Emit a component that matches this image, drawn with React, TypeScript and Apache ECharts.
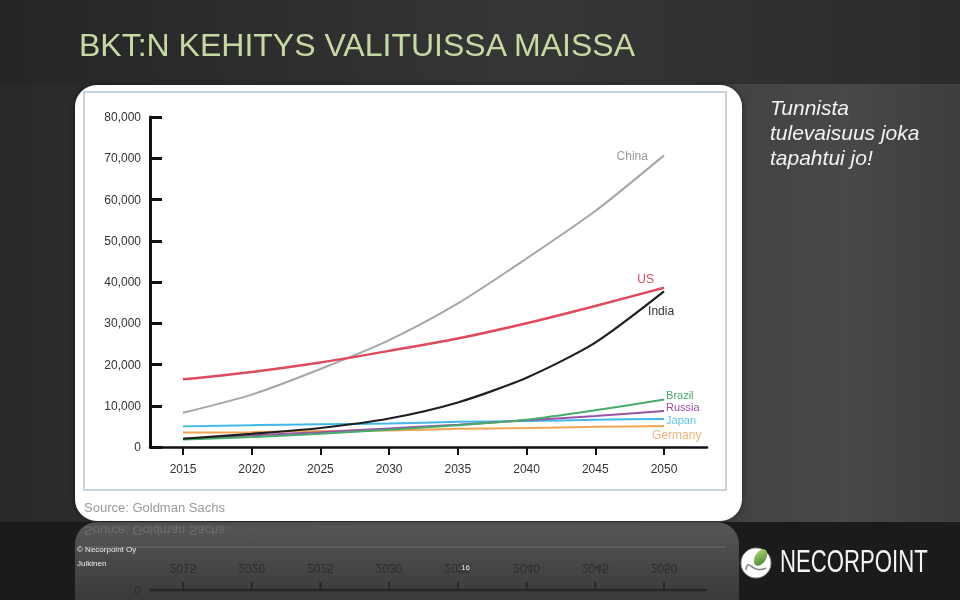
import React, { useEffect, useRef } from "react";
import * as echarts from "echarts";

// ---- data ----
const years = [2015, 2020, 2025, 2030, 2035, 2040, 2045, 2050];
const chinaGdp = [8300, 12700, 18900, 25900, 34800, 45700, 57200, 70700];
const usGdp = [16400, 18200, 20500, 23300, 26300, 30000, 34200, 38600];
const indiaGdp = [2000, 3200, 4600, 6900, 10800, 16800, 25300, 37700];
const brazilGdp = [1800, 2400, 3200, 4200, 5300, 6600, 8900, 11500];
const russiaGdp = [2000, 2800, 3600, 4500, 5400, 6500, 7500, 8700];
const japanGdp = [5000, 5300, 5500, 5700, 6100, 6300, 6600, 6800];
const germanyGdp = [3500, 3600, 3900, 4000, 4400, 4600, 4900, 5100];
const seriesNames = ["Germany", "Japan", "Russia", "Brazil", "China", "US", "India"];
const yMax = 80000;
const yStep = 10000;

const titleText = "BKT:N KEHITYS VALITUISSA MAISSA";
const sideText = "Tunnista\ntulevaisuus joka\ntapahtui jo!";
const sourceText = "Source: Goldman Sachs";

const valuesByName: Record<string, number[]> = {
  China: chinaGdp,
  US: usGdp,
  India: indiaGdp,
  Brazil: brazilGdp,
  Russia: russiaGdp,
  Japan: japanGdp,
  Germany: germanyGdp,
};

// ---- styles ----
const FONT = "'Liberation Sans', Arial, Helvetica, sans-serif";
const styleByName: Record<string, any> = {
  China: { color: "#a6a6a6", text: "#9c9c9c", width: 2, pos: "left", off: [-16, 1], fs: 12 },
  US: { color: "#df4a5d", text: "#df4a5d", width: 2.5, pos: "left", off: [-10, -9], fs: 12 },
  India: { color: "#1f1f1f", text: "#333333", width: 2.2, pos: "right", off: [-16, 20], fs: 12 },
  Brazil: { color: "#46ac6a", text: "#46ac6a", width: 2, pos: "right", off: [2, -5], fs: 11 },
  Russia: { color: "#9a52a8", text: "#9a52a8", width: 2, pos: "right", off: [2, -4], fs: 11 },
  Japan: { color: "#42b8e6", text: "#5fc4ee", width: 2, pos: "right", off: [2, 1], fs: 11 },
  Germany: { color: "#f0a552", text: "#efb47b", width: 2, pos: "right", off: [-12, 9], fs: 12 },
};

function buildSeries() {
  return seriesNames.map((name) => {
    const st = styleByName[name];
    const vals = valuesByName[name];
    const data = years.map((yr, i) =>
      i === years.length - 1
        ? {
            value: [yr, vals[i]],
            label: {
              show: true,
              position: st.pos,
              distance: 0,
              offset: st.off,
              formatter: name,
              color: st.text,
              fontSize: st.fs,
              lineHeight: 11,
              fontFamily: FONT,
            },
          }
        : [yr, vals[i]]
    );
    return {
      name,
      type: "line",
      xAxisIndex: 1,
      yAxisIndex: 1,
      smooth: 0.25,
      symbol: "circle",
      symbolSize: 0.1,
      showSymbol: true,
      lineStyle: { color: st.color, width: st.width },
      itemStyle: { color: st.color },
      label: { show: false },
      emphasis: { disabled: true },
      data,
    };
  });
}

function baseGraphic() {
  return [
    // page background
    {
      type: "rect",
      z: -20,
      shape: { x: 0, y: 0, width: 960, height: 600 },
      style: {
        fill: new echarts.graphic.LinearGradient(0, 0, 1, 0, [
          { offset: 0, color: "#292929" },
          { offset: 0.5, color: "#363636" },
          { offset: 0.88, color: "#484848" },
          { offset: 1, color: "#3e3e3e" },
        ]),
      },
    },
    {
      type: "rect",
      z: -19,
      shape: { x: 0, y: 0, width: 960, height: 84 },
      style: {
        fill: new echarts.graphic.LinearGradient(0, 0, 1, 0, [
          { offset: 0, color: "#252525" },
          { offset: 0.55, color: "#363636" },
          { offset: 1, color: "#2b2b2b" },
        ]),
      },
    },
    {
      type: "rect",
      z: -19,
      shape: { x: 0, y: 522, width: 960, height: 78 },
      style: { fill: "#1b1b1b" },
    },
    // white card
    {
      type: "rect",
      z: -17,
      shape: { x: 75, y: 85, width: 667, height: 436, r: 22 },
      style: { fill: "#ffffff", shadowBlur: 6, shadowColor: "rgba(0,0,0,0.45)" },
    },
    {
      type: "rect",
      z: -16,
      shape: { x: 84, y: 92, width: 642, height: 398 },
      style: { fill: "none", stroke: "#b6c6d3", lineWidth: 1.5 },
    },
    // texts
    {
      type: "text",
      z: 10,
      x: 79,
      y: 45,
      style: {
        text: titleText,
        fontSize: 32,
        fontFamily: FONT,
        fill: "#c6d9a2",
        verticalAlign: "middle",
      },
    },
    {
      type: "text",
      z: 10,
      x: 770,
      y: 95,
      style: {
        text: sideText,
        fontSize: 21,
        fontStyle: "italic",
        fontFamily: FONT,
        lineHeight: 25,
        fill: "#f2f2f2",
        verticalAlign: "top",
      },
    },
    {
      type: "text",
      z: 10,
      x: 84,
      y: 507,
      style: {
        text: sourceText,
        fontSize: 13,
        fontFamily: FONT,
        fill: "#9a9a9a",
        verticalAlign: "middle",
      },
    },
    {
      type: "text",
      z: 10,
      x: 77,
      y: 549,
      style: { text: "© Necorpoint Oy", fontSize: 8, fontFamily: FONT, fill: "#eeeeee", verticalAlign: "middle" },
    },
    {
      type: "text",
      z: 10,
      x: 77,
      y: 563,
      style: { text: "Julkinen", fontSize: 8, fontFamily: FONT, fill: "#eeeeee", verticalAlign: "middle" },
    },
    {
      type: "text",
      z: 10,
      x: 461,
      y: 567,
      style: { text: "16", fontSize: 8, fontFamily: FONT, fill: "#eeeeee", verticalAlign: "middle" },
    },
    // logo
    {
      type: "circle",
      z: 10,
      shape: { cx: 756, cy: 563, r: 15 },
      style: { fill: "#ffffff", stroke: "#9a9a9a", lineWidth: 1 },
    },
    {
      type: "ellipse",
      z: 11,
      x: 760.5,
      y: 557.5,
      rotation: -0.55,
      shape: { cx: 0, cy: 0, rx: 5.5, ry: 9 },
      style: {
        fill: new echarts.graphic.LinearGradient(0, 0, 1, 1, [
          { offset: 0, color: "#b6dc78" },
          { offset: 1, color: "#3f7f2d" },
        ]),
      },
    },
    {
      type: "bezierCurve",
      z: 12,
      shape: { x1: 746, y1: 570, cpx1: 748, cpy1: 556, cpx2: 752, cpy2: 575, x2: 766, y2: 568 },
      style: { stroke: "#8a8a8a", lineWidth: 1.6, fill: "none" },
    },
    {
      type: "text",
      z: 10,
      x: 780,
      y: 562,
      scaleX: 0.715,
      style: {
        text: "NECORPOINT",
        fontSize: 31,
        fontFamily: "'Liberation Sans Narrow', 'Liberation Sans', Arial, sans-serif",
        fill: "#f4f4f4",
        verticalAlign: "middle",
      },
    },
  ];
}

function mirrorGroup(xs: number[], axisY: number, axisLeft: number, axisRight: number) {
  const children: any[] = [
    {
      type: "rect",
      z: -18,
      shape: { x: 75, y: 300, width: 664, height: 215, r: 22 },
      style: {
        fill: new echarts.graphic.LinearGradient(0, 0, 0, 1, [
          { offset: 0, color: "#262626" },
          { offset: 0.64, color: "#3a3a3a" },
          { offset: 1, color: "#575757" },
        ]),
      },
    },
    {
      type: "line",
      z: -17,
      shape: { x1: 84, y1: 490, x2: 726, y2: 490 },
      style: { stroke: "#6c6c6c", lineWidth: 1.2 },
    },
    {
      type: "text",
      z: -17,
      x: 84,
      y: 507,
      style: { text: sourceText, fontSize: 13, fontFamily: FONT, fill: "#6e6e6e", verticalAlign: "middle" },
    },
    {
      type: "line",
      z: -17,
      shape: { x1: axisLeft, y1: axisY, x2: axisRight, y2: axisY },
      style: { stroke: "#262626", lineWidth: 2.5 },
    },
    {
      type: "text",
      z: -17,
      x: axisLeft - 9,
      y: axisY,
      style: { text: "0", fontSize: 12, fontFamily: FONT, fill: "#2e2e2e", align: "right", verticalAlign: "middle" },
    },
  ];
  xs.forEach((x, i) => {
    children.push({
      type: "line",
      z: -17,
      shape: { x1: x, y1: axisY, x2: x, y2: axisY + 8 },
      style: { stroke: "#262626", lineWidth: 2 },
    });
    children.push({
      type: "text",
      z: -17,
      x,
      y: axisY + 22,
      style: {
        text: String(years[i]),
        fontSize: 12,
        fontFamily: FONT,
        fill: "#2e2e2e",
        align: "center",
        verticalAlign: "middle",
      },
    });
  });
  return { type: "group", y: 1037, scaleY: -1, children };
}

function buildOption(extraGraphic: any[]) {
  return {
    animation: false,
    backgroundColor: "transparent",
    grid: [
      { left: 150, top: 117, width: 557, height: 330 },
      { left: 183, top: 117, width: 481, height: 330 },
    ],
    xAxis: [
      {
        gridIndex: 0,
        type: "value",
        min: 0,
        max: 1,
        axisLine: { show: true, lineStyle: { color: "#111111", width: 2.5 } },
        axisTick: { show: false },
        axisLabel: { show: false },
        splitLine: { show: false },
      },
      {
        gridIndex: 1,
        type: "value",
        min: years[0],
        max: years[years.length - 1],
        interval: 5,
        axisLine: { show: false },
        axisTick: { show: true, length: 8, lineStyle: { color: "#111111", width: 2 } },
        axisLabel: {
          fontSize: 12,
          color: "#333333",
          margin: 16,
          fontFamily: FONT,
          formatter: (v: number) => String(v),
        },
        splitLine: { show: false },
      },
    ],
    yAxis: [
      {
        gridIndex: 0,
        type: "value",
        min: 0,
        max: yMax,
        interval: yStep,
        axisLine: { show: true, lineStyle: { color: "#111111", width: 3 } },
        axisTick: { show: true, inside: true, length: 12, lineStyle: { color: "#111111", width: 3 } },
        axisLabel: {
          fontSize: 12,
          color: "#333333",
          margin: 9,
          fontFamily: FONT,
          formatter: (v: number) => v.toLocaleString("en-US"),
        },
        splitLine: { show: false },
      },
      {
        gridIndex: 1,
        type: "value",
        min: 0,
        max: yMax,
        show: false,
        splitLine: { show: false },
      },
    ],
    graphic: [...baseGraphic(), ...extraGraphic],
    series: buildSeries(),
  };
}

export default function App() {
  const ref = useRef<HTMLDivElement>(null);
  useEffect(() => {
    const el = ref.current!;
    const chart = echarts.init(el, null, { renderer: "svg" });
    chart.setOption(buildOption([]) as any);
    const xs = years.map((yr) => chart.convertToPixel({ xAxisIndex: 1 }, yr) as number);
    const axisY = chart.convertToPixel({ yAxisIndex: 0 }, 0) as number;
    const axisLeft = chart.convertToPixel({ xAxisIndex: 0 }, 0) as number;
    const axisRight = chart.convertToPixel({ xAxisIndex: 0 }, 1) as number;
    chart.setOption(buildOption([mirrorGroup(xs, axisY, axisLeft, axisRight)]) as any, { notMerge: true });
    return () => chart.dispose();
  }, []);
  return (
    <div
      ref={ref}
      style={{ position: "fixed", left: 0, top: 0, width: 960, height: 600 }}
    />
  );
}
